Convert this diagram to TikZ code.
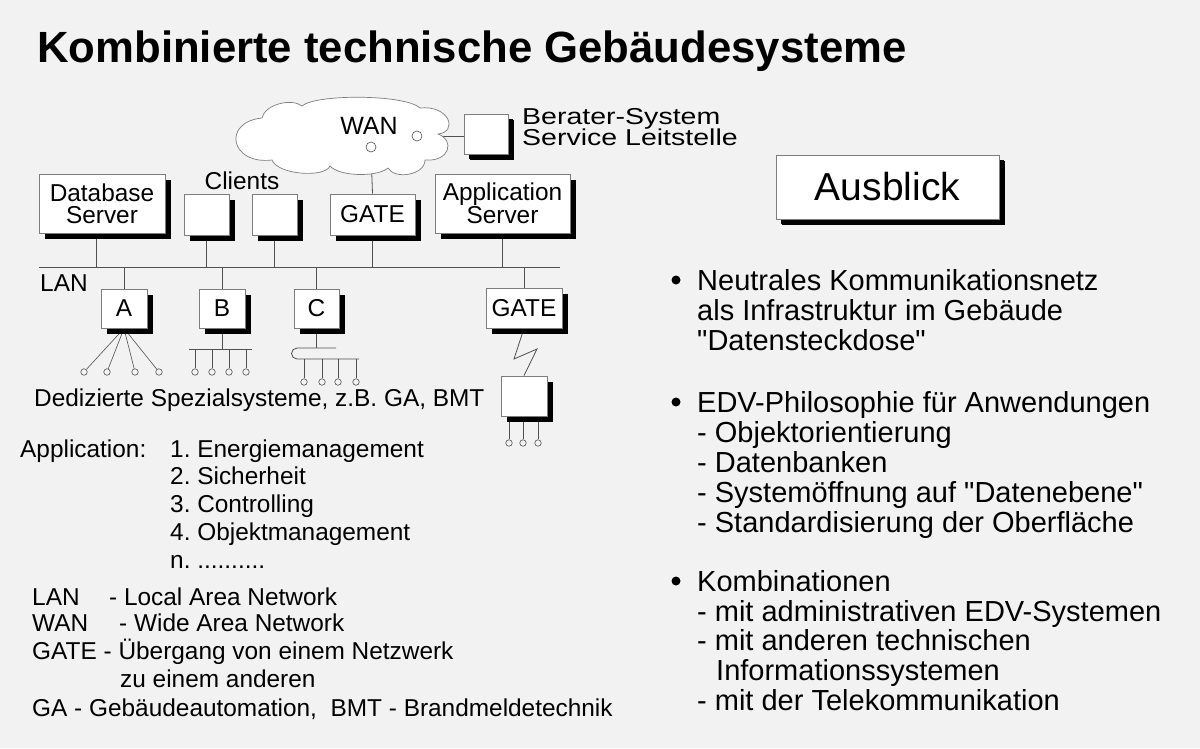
\documentclass[tikz,border=0pt]{standalone}
\usepackage{fontspec}
\setmainfont{Liberation Sans}
\usetikzlibrary{shadows}
\pgfdeclarelayer{bg}\pgfdeclarelayer{back}
\pgfsetlayers{bg,back,main}
\definecolor{bgc}{RGB}{242,242,242}
\definecolor{edgec}{RGB}{125,125,125}
\definecolor{wirec}{RGB}{80,80,80}
\newcommand{\qt}{\XeTeXglyph\XeTeXcharglyph"22\relax}
\frenchspacing
\begin{document}
\begin{tikzpicture}[x=1pt,y=-1pt,
  box/.style={draw=edgec, line width=0.8pt, fill=white, inner sep=0pt,
    font=\fontsize{24.4}{22}\selectfont, align=center,
    drop shadow={shadow xshift=6pt, shadow yshift=-6pt, fill=black, opacity=1}},
  wire/.style={draw=wirec, line width=0.8pt},
  term/.style={circle, draw=wirec, fill=bgc, line width=0.6pt, minimum size=6.5pt, inner sep=0pt},
  bigterm/.style={term, minimum size=10pt, fill=white},
  txt/.style={inner sep=0pt, anchor=west, text height=17.5pt, text depth=0pt, font=\fontsize{24.4}{28}\selectfont},
  rtxt/.style={inner sep=0pt, anchor=west, text height=20.7pt, text depth=0pt, font=\fontsize{29}{30}\selectfont},
  dot/.style={circle, fill=black, minimum size=9pt, inner sep=0pt}
]
\useasboundingbox (0,0) rectangle (1200,748);
\begin{pgfonlayer}{bg}
\fill[bgc] (0,0) rectangle (1200,748);
\end{pgfonlayer}

% title
\node[inner sep=0pt, anchor=west, text height=31.3pt, text depth=0pt, font=\fontsize{43.7}{50}\selectfont\bfseries] (title) at (37,47) {Kombinierte technische Gebäudesysteme};

% cloud
\coordinate (p1) at (262,118);
\coordinate (p2) at (302,106);
\coordinate (p3) at (420,108);
\coordinate (p4) at (438,134);
\coordinate (p5) at (425,160);
\coordinate (p6) at (388,168);
\coordinate (p7) at (330,166);
\coordinate (p8) at (272,160);
\filldraw[draw=edgec, fill=white, line width=0.7pt]
  (p8) .. controls (230,165) and (222,122) .. (p1)
       .. controls (265,104) and (292,98) .. (p2)
       .. controls (315,94) and (405,94) .. (p3)
       .. controls (450,105) and (458,132) .. (p4)
       .. controls (455,140) and (450,162) .. (p5)
       .. controls (425,175) and (395,180) .. (p6)
       .. controls (378,177) and (340,177) .. (p7)
       .. controls (325,178) and (278,175) .. (p8) -- cycle;
\node[inner sep=0pt, text height=17.9pt, text depth=0pt, font=\fontsize{25}{28}\selectfont] (wanl) at (369,126) {WAN};
\node[bigterm] (wc1) at (371,147) {};
\node[bigterm] (wc2) at (417,136) {};

% Berater
\node[box, minimum width=44pt, minimum height=40pt,
      drop shadow={shadow xshift=5pt, shadow yshift=-5pt, fill=black, opacity=1}] (ber) at (486,134) {};
\node[inner sep=0pt, anchor=west, text height=16.5pt, text depth=0pt, font=\fontsize{23}{26}\selectfont] (ber1) at (522,116) {\scalebox{1.24}[1]{Berater-System}};
\node[inner sep=0pt, anchor=west, text height=16.5pt, text depth=0pt, font=\fontsize{23}{26}\selectfont] (ber2) at (522,137) {\scalebox{1.24}[1]{Service Leitstelle}};

% top row
\node[box, minimum width=126pt, minimum height=59pt] (db) at (102,203.5) {Database\\Server};
\node[txt, anchor=center] (clients) at (242,181) {Clients};
\node[box, minimum width=45pt, minimum height=41pt] (c1) at (206.5,214.5) {};
\node[box, minimum width=45pt, minimum height=41pt] (c2) at (274.5,214.5) {};
\node[box, minimum width=85pt, minimum height=41pt] (gate1) at (372.5,214.5) {GATE};
\node[box, minimum width=135pt, minimum height=59pt] (app) at (502.5,203.5) {Application\\Server};

% LAN
\coordinate (lanL) at (39,267);
\coordinate (lanR) at (560,267);
\node[txt] (lanlab) at (40,283) {LAN};

% bottom row
\node[box, minimum width=46pt, minimum height=39pt] (A) at (124,308.5) {A};
\node[box, minimum width=46pt, minimum height=39pt] (B) at (222,308.5) {B};
\node[box, minimum width=45pt, minimum height=39pt] (C) at (316.5,308.5) {C};
\node[box, minimum width=76pt, minimum height=40pt] (gate2) at (524,308) {GATE};
\node[box, minimum width=46pt, minimum height=40pt] (dev) at (524,396) {};

% terminals
\foreach \x/\i in {84/1,107/2,135/3,159/4} \node[term] (a\i) at (\x,372) {};
\foreach \x/\i in {195/1,212/2,229/3,246/4} \node[term] (b\i) at (\x,372) {};
\foreach \x/\i in {304/1,322/2,338/3,356/4} \node[term] (k\i) at (\x,382) {};
\foreach \x/\i in {509/1,523/2,538/3} \node[term] (d\i) at (\x,443) {};
\coordinate (bL) at (189,349);
\coordinate (bR) at (252,349);
\coordinate (cU) at (297,348);
\coordinate (cUr) at (336,348);
\coordinate (cLr) at (359,359);
\coordinate (z1) at (514,359);
\coordinate (z2) at (537,349);

\begin{pgfonlayer}{back}
\draw[wire] (wc1.south) -- (gate1.north);
\draw[wire] (wc2.east) -- (wc2.east -| ber.west);
\draw[wire] (lanL) -- (lanR);
\draw[wire] ([xshift=-6pt]db.south) -- ([xshift=-6pt]db.south |- lanL);
\foreach \n in {c1,c2,gate1,app} \draw[wire] (\n.south) -- (\n.south |- lanL);
\foreach \n in {A,B,C,gate2} \draw[wire] (\n.north) -- (\n.north |- lanL);
\foreach \i in {1,2,3,4} \draw[wire, line width=0.6pt] (A.south) -- (a\i);
\draw[wire] (B.south) -- (B.south |- bL);
\draw[wire] (bL) -- (bR);
\foreach \i in {1,2,3,4} \draw[wire] (b\i |- bL) -- (b\i);
\draw[wire] (C.south) -- (C.south |- cU);
\draw[wire] (cUr) -- (cU) arc[start angle=90, end angle=270, radius=5.5pt] -- (cLr);
\foreach \i in {1,2,3,4} \draw[wire] (k\i |- cLr) -- (k\i);
\draw[wire] (gate2.south) -- (z1) -- (z2) -- (dev.north);
\foreach \i in {1,2,3} \draw[wire] (d\i |- dev.south) -- (d\i);
\end{pgfonlayer}

\node[txt] (ded) at (34,398) {Dedizierte Spezialsysteme, z.B. GA, BMT};

% applications
\node[txt] (applab) at (20,449) {Application:};
\node[txt] (ap1) at (170,449) {1. Energiemanagement};
\node[txt] (ap2) at (170,476) {2. Sicherheit};
\node[txt] (ap3) at (170,504) {3. Controlling};
\node[txt] (ap4) at (170,532) {4. Objektmanagement};
\node[txt] (apn) at (170,560) {n. ..........};

% legend
\node[txt] (lg1a) at (32,597) {LAN};
\node[txt] (lg1b) at (109,597) {- Local Area Network};
\node[txt] (lg2a) at (32,623) {WAN};
\node[txt] (lg2b) at (119,623) {- Wide Area Network};
\node[txt] (lg3) at (32,651) {GATE - Übergang von einem Netzwerk};
\node[txt] (lg4) at (120,679) {zu einem anderen};
\node[txt] (lg5) at (32,708) {GA - Gebäudeautomation,\ \ BMT - Brandmeldetechnik};

% right
\node[box, minimum width=223pt, minimum height=64pt, font=\fontsize{39}{44}\selectfont,
      drop shadow={shadow xshift=5pt, shadow yshift=-5pt, fill=black, opacity=1}] (ausb) at (887.5,187) {Ausblick};

\node[dot] (bu1) at (676,280) {};
\node[rtxt] (r11) at (697,280) {Neutrales Kommunikationsnetz};
\node[rtxt] (r12) at (697,310) {als Infrastruktur im Gebäude};
\node[rtxt] (r13) at (697,340) {\qt Datensteckdose\qt};

\node[dot] (bu2) at (676,402) {};
\node[rtxt] (r21) at (697,402) {EDV-Philosophie für Anwendungen};
\node[rtxt] (r22) at (697,432) {- Objektorientierung};
\node[rtxt] (r23) at (697,462) {- Datenbanken};
\node[rtxt] (r24) at (697,492) {- Systemöffnung auf \qt Datenebene\qt};
\node[rtxt] (r25) at (697,522) {- Standardisierung der Oberfläche};

\node[dot] (bu3) at (676,581) {};
\node[rtxt] (r31) at (697,581) {Kombinationen};
\node[rtxt] (r32) at (697,611) {- mit administrativen EDV-Systemen};
\node[rtxt] (r33) at (697,640) {- mit anderen technischen};
\node[rtxt] (r34) at (716,670) {Informationssystemen};
\node[rtxt] (r35) at (697,700) {- mit der Telekommunikation};
\end{tikzpicture}
\end{document}
